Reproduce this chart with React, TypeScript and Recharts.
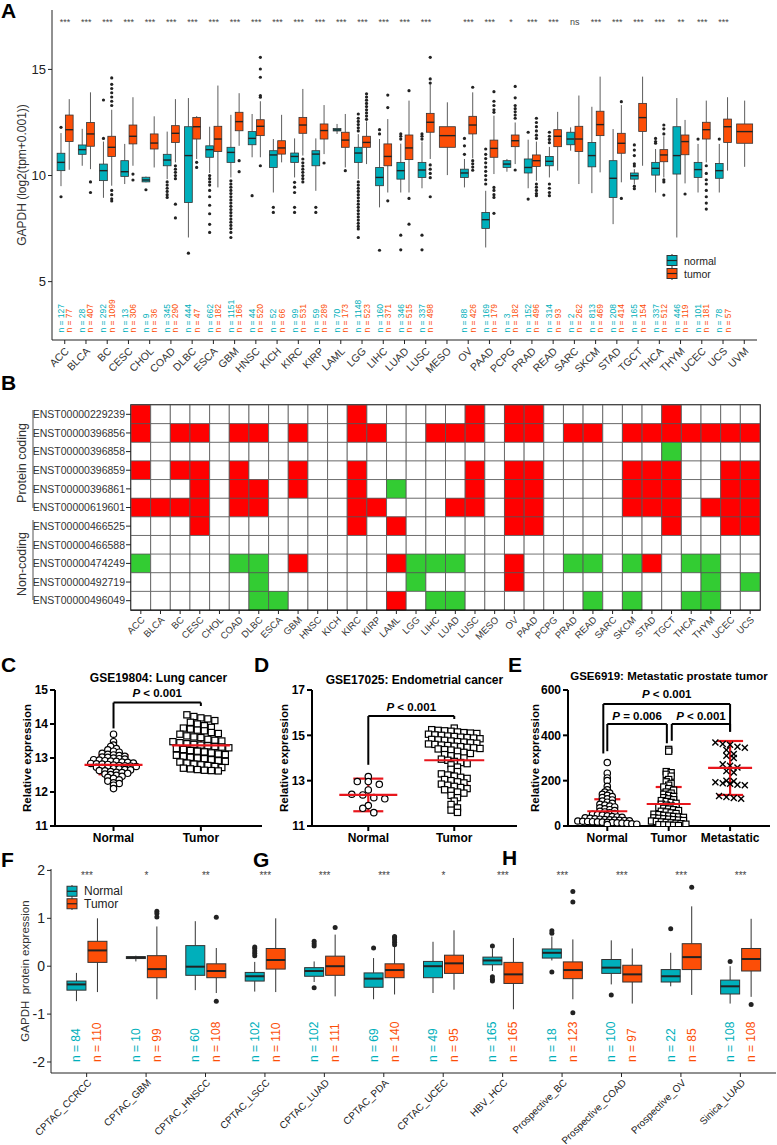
import React from "react";
import {
  BarChart,
  Bar,
  XAxis,
  YAxis,
  Cell,
  Legend,
  ReferenceArea,
  ScatterChart,
  Scatter,
  ErrorBar,
  ReferenceLine,
} from "recharts";

const FONT = "'Liberation Sans', Arial, Helvetica, sans-serif";
const TEAL = "#00AFBB";
const ORANGE = "#FC4E07";
const RED = "#E8161C";

// ---------- A: GAPDH in TCGA, log2(tpm+0.001) ----------
const tcgaTypes = ["ACC", "BLCA", "BC", "CESC", "CHOL", "COAD", "DLBC", "ESCA", "GBM", "HNSC", "KICH", "KIRC", "KIRP", "LAML", "LGG", "LIHC", "LUAD", "LUSC", "MESO", "OV", "PAAD", "PCPG", "PRAD", "READ", "SARC", "SKCM", "STAD", "TGCT", "THCA", "THYM", "UCEC", "UCS", "UVM"];

// [lower whisker, q1, median, q3, upper whisker]
const tcgaNormalBox = [
  [9.5, 10.23, 10.62, 11.05, 12.0], [10.46, 11.0, 11.22, 11.44, 12.2], [8.95, 9.76, 10.23, 10.54, 11.6],
  [9.6, 9.96, 10.18, 10.7, 11.49], [9.68, 9.7, 9.79, 9.92, 9.95], [9.83, 10.46, 10.73, 11.0, 12.07],
  [7.08, 8.73, 10.94, 12.3, 13.65], [10.12, 10.86, 11.22, 11.4, 12.3], [9.91, 10.62, 11.09, 11.33, 12.86],
  [10.86, 11.45, 11.75, 12.07, 12.9], [9.2, 10.38, 10.97, 11.17, 11.72], [9.91, 10.62, 10.9, 11.06, 11.75],
  [9.28, 10.46, 11.01, 11.17, 11.75], [11.96, 12.1, 12.15, 12.22, 12.43], [9.83, 10.62, 11.06, 11.33, 11.95],
  [8.5, 9.52, 9.91, 10.38, 11.72], [9.2, 9.83, 10.23, 10.62, 11.5], [9.4, 9.91, 10.26, 10.62, 11.6],
  null, [9.44, 9.91, 10.12, 10.3, 10.78], [6.61, 7.51, 7.92, 8.26, 9.28],
  [10.18, 10.38, 10.54, 10.7, 10.78], [9.4, 10.12, 10.38, 10.78, 11.69], [9.91, 10.46, 10.67, 10.9, 11.35],
  [11.17, 11.45, 11.72, 12.04, 12.27], [9.17, 10.41, 10.94, 11.56, 13.24], [7.71, 8.97, 9.87, 10.7, 12.19],
  [9.6, 9.83, 9.99, 10.12, 10.3], [9.2, 10.02, 10.34, 10.62, 11.25], [7.08, 10.07, 10.94, 12.3, 13.65],
  [9.2, 9.91, 10.28, 10.62, 11.49], [9.2, 9.87, 10.23, 10.57, 11.49], null,
];
const tcgaTumorBox = [
  [10.27, 11.6, 12.16, 12.85, 13.6], [10.3, 11.38, 11.96, 12.5, 13.92], [9.52, 10.9, 11.33, 11.85, 13.1],
  [10.46, 11.49, 11.85, 12.38, 13.69], [10.38, 11.25, 11.53, 11.96, 12.79], [10.62, 11.56, 11.99, 12.35, 13.6],
  [10.78, 11.72, 12.3, 12.74, 12.8], [9.44, 11.13, 11.72, 12.32, 14.24], [11.4, 12.11, 12.54, 12.98, 13.88],
  [10.86, 11.88, 12.32, 12.63, 13.5], [10.62, 11.01, 11.3, 11.64, 12.86], [10.94, 11.99, 12.38, 12.74, 14.08],
  [11.01, 11.72, 12.12, 12.43, 13.32], [10.38, 11.33, 11.67, 12.04, 12.9], [10.54, 11.33, 11.56, 11.85, 12.55],
  [9.2, 10.46, 10.9, 11.49, 12.66], [9.2, 10.75, 11.3, 11.91, 13.53], [10.78, 12.04, 12.51, 12.93, 14.32],
  [10.02, 11.33, 11.88, 12.3, 13.45], [10.81, 11.96, 12.38, 12.79, 13.92], [10.07, 10.86, 11.28, 11.67, 12.82],
  [10.54, 11.36, 11.64, 11.91, 12.5], [9.75, 10.43, 10.7, 10.97, 11.6], [10.23, 11.36, 11.85, 12.16, 13.0],
  [9.6, 11.13, 11.72, 12.32, 13.77], [10.15, 11.88, 12.4, 13.03, 14.66], [9.68, 11.05, 11.52, 11.99, 13.32],
  [10.46, 12.08, 12.73, 13.4, 14.66], [9.91, 10.65, 10.97, 11.22, 11.85], [9.63, 10.98, 11.6, 11.91, 12.62],
  [10.62, 11.72, 12.16, 12.51, 13.53], [10.23, 11.56, 12.3, 12.66, 13.69], [10.41, 11.52, 12.07, 12.43, 13.53],
];
const tcgaNormalOut = [
  [12.27, 9.0], [], [11.75, 13.56], [], [9.33], [9.7, 9.55, 9.4, 9.25, 9.1, 8.97], [6.34],
  [10.0, 9.85, 9.7, 9.55, 9.3, 9.0, 8.6, 8.2, 7.7, 7.32],
  [9.75, 9.6, 9.45, 9.3, 9.15, 9.0, 8.85, 8.7, 8.55, 8.4, 8.25, 8.1, 7.95, 7.8, 7.65, 7.5, 7.32, 7.08],
  [9.05], [8.5, 8.26], [9.68, 9.45, 9.2, 8.5, 8.26], [8.5, 8.26], [],
  [12.1, 12.25, 12.4, 12.55, 12.7, 12.9, 9.7, 9.55, 9.4, 9.25, 9.1, 8.95, 8.8, 8.65, 8.5, 8.35, 8.2, 8.05, 7.9, 7.75, 7.6, 7.48, 7.08],
  [12.16, 11.96, 6.48], [11.96, 11.85, 11.72, 7.19, 6.5], [11.96, 11.85, 11.72, 7.19, 6.5], [],
  [11.75, 11.4, 11.0], [11.25, 11.0, 10.8, 10.6, 10.4, 10.2, 10.0, 9.8, 9.6], [], [12.04, 8.89],
  [12.04, 11.85, 11.7, 11.55, 9.6, 9.4, 9.2, 9.05], [], [], [], [11.44, 11.2, 10.94, 10.55, 10.45, 9.5, 9.38],
  [11.75, 11.6, 11.52], [], [11.72], [11.72], [],
];
const tcgaTumorOut = [
  [], [9.7, 9.2], [13.3, 13.5, 13.7, 13.9, 14.1, 14.3, 14.6, 9.3, 9.1, 8.9, 8.8], [10.07, 9.79], [],
  [10.46, 10.3, 10.15, 10.0, 9.85, 8.65, 8.0], [10.62, 10.38], [], [10.7, 10.18],
  [15.57, 15.02, 14.63, 13.77, 13.69, 10.46], [], [10.78, 10.6, 10.45, 10.3, 10.15, 10.0, 9.85, 9.7], [10.59],
  [10.23], [12.65, 12.8, 12.95, 13.1, 13.25, 13.4, 13.55, 13.7, 13.85], [13.79, 13.2, 8.81], [14.0, 8.92, 7.71],
  [15.57, 14.55, 14.36, 10.5, 10.3, 10.1, 9.9, 9.0], [], [14.16, 10.7, 10.55, 10.4, 10.25],
  [13.95, 13.5, 13.3, 13.1, 12.98, 9.44, 9.3, 9.1, 8.97, 8.22], [14.2, 13.66, 13.3, 13.15, 13.0, 12.85, 12.7, 10.26],
  [12.7, 12.5, 12.3, 12.1, 11.9, 11.75, 9.6, 9.45, 9.3, 9.15, 9.05], [], [], [], [13.48, 8.92], [],
  [12.38, 12.2, 11.96, 9.8, 9.7, 9.08], [9.13], [10.46, 10.1, 9.8, 9.6, 9.3, 9.0, 8.7, 8.42], [], [],
];
const tcgaNormalN = [127, 28, 292, 13, 9, 345, 444, 662, 1151, 44, 52, 99, 59, 70, 1148, 160, 346, 337, null, 88, 169, 3, 152, 314, 2, 813, 208, 165, 337, 446, 101, 78, null];
const tcgaTumorN = [77, 407, 1099, 306, 36, 290, 47, 182, 166, 520, 66, 531, 289, 173, 523, 371, 515, 498, null, 426, 179, 182, 496, 93, 262, 469, 414, 154, 512, 119, 181, 57, null];
const tcgaSig = ["***", "***", "***", "***", "***", "***", "***", "***", "***", "***", "***", "***", "***", "***", "***", "***", "***", "***", "", "***", "***", "*", "***", "***", "ns", "***", "***", "***", "***", "**", "***", "***", ""];

// ---------- B: transcript calls (R = up, G = down) ----------
const heatTypes = ["ACC", "BLCA", "BC", "CESC", "CHOL", "COAD", "DLBC", "ESCA", "GBM", "HNSC", "KICH", "KIRC", "KIRP", "LAML", "LGG", "LIHC", "LUAD", "LUSC", "MESO", "OV", "PAAD", "PCPG", "PRAD", "READ", "SARC", "SKCM", "STAD", "TGCT", "THCA", "THYM", "UCEC", "UCS"];
const heatTranscripts = ["ENST00000229239", "ENST00000396856", "ENST00000396858", "ENST00000396859", "ENST00000396861", "ENST00000619601", "ENST00000466525", "ENST00000466588", "ENST00000474249", "ENST00000492719", "ENST00000496049"];
const heatCalls = [
  "R.........." + "R.....R.R" + "R......R.." + "..",
  "R.RR.RR.R." + ".RR..RRR.R" + "R.RR.RRRRR" + "RR",
  ".........." + ".........." + ".......G.." + "..",
  "R.RR.R..R." + ".R.....R.R" + "R....RRR.." + "RR",
  "...R.RR.R." + ".R.G...R.R" + "R....RRR.." + "RR",
  "RRRR.RR..." + ".RR...RR.R" + "R....RRR.R" + "RR",
  "...R......" + ".R.R.....R" + "R......R.." + "RR",
  ".........." + ".........." + ".........." + "..",
  "G....GG.R." + "...RGGG..R" + "..GG.GR.GG" + "..",
  "......G..." + "....G....R" + ".........G" + ".G",
  "......GG.." + "...R.GG..." + "...G.G..GG" + "..",
];
const callColor: Record<string, string> = { R: "#FF0000", G: "#33CC33", ".": "#FFFFFF" };

// ---------- C/D/E: GEO cohorts ----------
const gse19804Normal = [13.7, 13.48, 13.38, 13.34, 13.28, 13.24, 13.2, 13.17, 13.14, 13.11, 13.09, 13.07, 13.05, 13.03, 13.02, 13.0, 12.98, 12.97, 12.95, 12.94, 12.92, 12.91, 12.9, 12.88, 12.87, 12.85, 12.84, 12.83, 12.82, 12.81, 12.79, 12.78, 12.77, 12.76, 12.75, 12.73, 12.72, 12.7, 12.69, 12.68, 12.66, 12.65, 12.63, 12.62, 12.6, 12.58, 12.57, 12.55, 12.53, 12.51, 12.49, 12.46, 12.43, 12.4, 12.36, 12.32, 12.27, 12.25, 12.2, 12.1];
const gse19804Tumor = [14.27, 14.22, 14.18, 14.15, 14.1, 14.05, 14.0, 13.95, 13.9, 13.88, 13.85, 13.82, 13.8, 13.75, 13.72, 13.7, 13.65, 13.62, 13.6, 13.55, 13.52, 13.5, 13.48, 13.45, 13.42, 13.4, 13.38, 13.36, 13.34, 13.32, 13.3, 13.28, 13.25, 13.22, 13.2, 13.18, 13.15, 13.12, 13.1, 13.08, 13.05, 13.02, 13.0, 12.98, 12.95, 12.92, 12.9, 12.88, 12.85, 12.82, 12.8, 12.78, 12.75, 12.72, 12.7, 12.68, 12.66, 12.64, 12.63, 12.62];
const gse17025Normal = [13.18, 12.96, 12.96, 12.84, 12.59, 12.4, 12.37, 12.25, 12.2, 11.9, 11.78, 11.59];
const gse17025Tumor = [15.32, 15.25, 15.22, 15.2, 15.18, 15.15, 15.12, 15.1, 15.08, 15.05, 15.02, 15.0, 14.97, 14.95, 14.92, 14.9, 14.88, 14.85, 14.82, 14.8, 14.78, 14.75, 14.72, 14.7, 14.67, 14.65, 14.62, 14.6, 14.57, 14.55, 14.52, 14.5, 14.47, 14.45, 14.42, 14.4, 14.37, 14.35, 14.3, 14.25, 14.2, 14.15, 14.1, 14.05, 14.0, 13.95, 13.9, 13.85, 13.8, 13.75, 13.7, 13.6, 13.5, 13.4, 13.3, 13.25, 13.2, 13.15, 13.1, 13.05, 13.0, 12.95, 12.9, 12.85, 12.8, 12.75, 12.7, 12.65, 12.6, 12.55, 12.5, 12.45, 12.35, 12.25, 12.1, 11.95, 11.8, 11.7, 11.6];
const gse6919Normal = [280, 233, 212, 200, 175, 160, 150, 145, 140, 135, 130, 125, 120, 115, 110, 105, 100, 96, 92, 88, 84, 80, 76, 72, 68, 65, 62, 58, 55, 52, 50, 48, 45, 42, 40, 38, 36, 34, 32, 30, 28, 27, 26, 25, 24, 23, 22, 21, 20, 19, 18, 17, 16, 15, 14, 13, 12, 10, 8, 6];
const gse6919Tumor = [338, 330, 240, 235, 228, 220, 205, 195, 188, 180, 172, 165, 158, 150, 145, 140, 135, 130, 125, 120, 116, 112, 108, 104, 100, 96, 92, 88, 85, 82, 78, 75, 72, 68, 65, 62, 58, 55, 52, 50, 47, 44, 42, 40, 38, 36, 34, 32, 30, 28, 26, 24, 22, 20, 18, 16, 14, 12, 10, 8, 6, 5, 4, 3, 2];
const gse6919Met = [368, 362, 358, 350, 345, 335, 318, 310, 300, 272, 266, 258, 243, 236, 200, 197, 193, 189, 186, 182, 180, 132, 128, 124, 120];
// mean and SD as drawn
const gse19804Stats = [[12.8, 0.28], [13.37, 0.45]];
const gse17025Stats = [[12.37, 0.72], [13.9, 1.08]];
const gse6919Stats = [[65, 53], [97, 75], [256, 119]];

// ---------- F/G/H: CPTAC protein ----------
const protSets = ["CPTAC_CCRCC", "CPTAC_GBM", "CPTAC_HNSCC", "CPTAC_LSCC", "CPTAC_LUAD", "CPTAC_PDA", "CPTAC_UCEC", "HBV_HCC", "Prospective_BC", "Prospective_COAD", "Prospective_OV", "Sinica_LUAD"];
const protNormalBox = [
  [-0.73, -0.5, -0.38, -0.31, -0.14], [0.1, 0.16, 0.18, 0.2, 0.22], [-0.5, -0.19, -0.01, 0.43, 0.94],
  [-0.53, -0.31, -0.21, -0.13, 0.09], [-0.33, -0.21, -0.1, -0.03, 0.1], [-0.69, -0.44, -0.26, -0.14, 0.17],
  [-0.56, -0.24, 0.0, 0.1, 0.51], [-0.1, 0.03, 0.12, 0.19, 0.37], [0.12, 0.17, 0.28, 0.36, 0.62],
  [-0.38, -0.15, -0.03, 0.14, 0.54], [-0.42, -0.33, -0.21, -0.07, 0.28], [-0.78, -0.58, -0.42, -0.29, 0.0],
];
const protTumorBox = [
  [-0.54, 0.08, 0.33, 0.52, 1.0], [-0.69, -0.24, -0.06, 0.22, 0.83], [-0.56, -0.24, -0.1, 0.05, 0.38],
  [-0.54, -0.06, 0.13, 0.37, 1.0], [-0.63, -0.19, 0.0, 0.21, 0.66], [-0.59, -0.24, -0.08, 0.05, 0.42],
  [-0.49, -0.15, 0.06, 0.23, 0.75], [-0.9, -0.36, -0.17, 0.08, 0.59], [-0.69, -0.26, -0.08, 0.09, 0.56],
  [-0.78, -0.33, -0.17, 0.02, 0.37], [-0.6, -0.07, 0.19, 0.47, 1.25], [-0.64, -0.1, 0.15, 0.37, 0.99],
];
const protNormalOut = [[], [], [], [0.22, 0.27, 0.32, 0.37, 0.4], [0.42, 0.47, 0.52, -0.45], [0.38], [], [0.42, -0.22, -0.27, -0.31], [0.74, 0.69, -0.12], [-0.6], [0.78], [0.1]];
const protTumorOut = [[], [1.15, 1.1, 1.03], [1.02, -0.73], [], [0.81], [0.45, 0.5, 0.55, 0.6, 0.62], [], [], [1.56, 1.34, -0.97], [], [1.65], [-0.8]];
const protNormalN = [84, 10, 60, 102, 102, 69, 49, 165, 18, 100, 22, 108];
const protTumorN = [110, 99, 108, 110, 111, 140, 95, 165, 123, 97, 85, 108];
const protSig = ["***", "*", "**", "***", "***", "***", "*", "***", "***", "***", "***", "***"];

// ---------- helpers ----------
function buildBoxRows(names: string[], nb: any[], tb: any[], no: number[][], to: number[][], nn: any[], tn: any[], sig: string[]) {
  return names.map((name, i) => {
    const vals = [...(nb[i] || []), ...tb[i], ...no[i], ...to[i]];
    return {
      idx: i + 1, name, normal: nb[i], tumor: tb[i], nOut: no[i], tOut: to[i],
      nN: nn[i], tN: tn[i], sig: sig[i], range: [Math.min(...vals), Math.max(...vals)],
    };
  });
}

function swarm(values: number[], center: number, bin: number, step: number) {
  const rows = new Map<number, number[]>();
  values.forEach((v) => {
    const k = Math.round(v / bin);
    rows.set(k, [...(rows.get(k) || []), v]);
  });
  const pts: { x: number; y: number }[] = [];
  rows.forEach((vs) => vs.forEach((v, i) => pts.push({ x: center + (i - (vs.length - 1) / 2) * step, y: v })));
  return pts;
}

const tcgaRows = buildBoxRows(tcgaTypes, tcgaNormalBox, tcgaTumorBox, tcgaNormalOut, tcgaTumorOut, tcgaNormalN, tcgaTumorN, tcgaSig);
const protRows = buildBoxRows(protSets, protNormalBox, protTumorBox, protNormalOut, protTumorOut, protNormalN, protTumorN, protSig);

const heatRows = heatTranscripts.map((id) => {
  const row: any = { id };
  heatTypes.forEach((_, j) => (row[`c${j}`] = 1));
  return row;
});

// draws a normal/tumor box pair inside the bar's rectangle (bar spans the data range)
function makeBoxShape(st: any) {
  return (props: any) => {
    const { x, y, width, height, payload } = props;
    if (!payload || x == null) return <g />;
    const [lo, hi] = payload.range;
    const top = Math.min(y, y + height);
    const bot = Math.max(y, y + height);
    const py = (v: number) => bot - ((v - lo) / (hi - lo)) * (bot - top);
    const single = !payload.normal;
    const bw = single ? width : (width - st.gap) / 2;
    const nCx = x + bw / 2;
    const tCx = single ? x + width / 2 : x + width - bw / 2;
    const box = (key: string, b: number[], outs: number[], cx: number, fill: string) => (
      <g key={key}>
        <line x1={cx} x2={cx} y1={py(b[4])} y2={py(b[3])} stroke={st.line} strokeWidth={st.lw} />
        <line x1={cx} x2={cx} y1={py(b[1])} y2={py(b[0])} stroke={st.line} strokeWidth={st.lw} />
        <rect x={cx - bw / 2} y={py(b[3])} width={bw} height={Math.max(py(b[1]) - py(b[3]), 0.5)} fill={fill} stroke={st.line} strokeWidth={st.lw} />
        <line x1={cx - bw / 2} x2={cx + bw / 2} y1={py(b[2])} y2={py(b[2])} stroke="#222" strokeWidth={st.mw} />
        {outs.map((o, k) => (
          <circle key={k} cx={cx} cy={py(o)} r={st.r} fill="#222" />
        ))}
      </g>
    );
    const nText = (key: string, n: any, cx: number, color: string) =>
      n == null ? null : (
        <text key={key} transform={`translate(${cx},${py(st.nY)}) rotate(-90)`} fontSize={st.nFont} fill={color} fontFamily={FONT} dominantBaseline="central">
          {`n = ${n}`}
        </text>
      );
    return (
      <g>
        {payload.normal ? box("n", payload.normal, payload.nOut, nCx, TEAL) : null}
        {box("t", payload.tumor, payload.tOut, tCx, ORANGE)}
        {nText("nn", payload.nN, nCx, TEAL)}
        {nText("tn", payload.tN, tCx, ORANGE)}
        {payload.sig ? (
          <text x={x + width / 2} y={py(st.sigY)} textAnchor="middle" fontSize={st.sigFont} fill="#444" fontFamily={FONT}>
            {payload.sig}
          </text>
        ) : null}
      </g>
    );
  };
}

const boxShapeA = makeBoxShape({ gap: 0.5, line: "#333", lw: 0.8, mw: 1.4, r: 1.6, nY: 2.6, nFont: 8.5, sigY: 17.1, sigFont: 9 });
const boxShapeF = makeBoxShape({ gap: 2, line: "#333", lw: 1, mw: 2, r: 2.5, nY: -2.0, nFont: 12, sigY: 1.82, sigFont: 10 });

const SlantTick = (props: any) => {
  const { x, y, payload, fmt, fontSize, fill, dx = 0, dy = 0 } = props;
  return (
    <text transform={`translate(${x + dx},${y + dy}) rotate(-45)`} textAnchor="end" fontSize={fontSize} fill={fill} fontFamily={FONT} dominantBaseline="central">
      {fmt(payload.value)}
    </text>
  );
};

const BoxKey = ({ labels, fontSize, rowH, size }: any) => (
  <svg width={90} height={rowH * labels.length + 4} style={{ overflow: "visible" }}>
    {labels.map((l: string, i: number) => {
      const y0 = 2 + i * rowH;
      const cx = 1 + size / 2;
      return (
        <g key={l}>
          <line x1={cx} x2={cx} y1={y0} y2={y0 + rowH} stroke="#333" />
          <rect x={1} y={y0 + (rowH - size) / 2} width={size} height={size} fill={i ? ORANGE : TEAL} stroke="#333" />
          <line x1={1} x2={1 + size} y1={y0 + rowH / 2} y2={y0 + rowH / 2} stroke="#222" strokeWidth={1.2} />
          <text x={size + 8} y={y0 + rowH / 2} dominantBaseline="central" fontSize={fontSize} fill="#222" fontFamily={FONT}>
            {l}
          </text>
        </g>
      );
    })}
  </svg>
);

const PText = (props: any) => {
  const { viewBox, text, lift } = props;
  if (!viewBox) return null;
  return (
    <text x={viewBox.x + viewBox.width / 2} y={viewBox.y - lift} textAnchor="middle" fontSize={11.5} fontWeight="bold" fontFamily={FONT} fill="#000">
      <tspan fontStyle="italic">P</tspan>
      {text}
    </text>
  );
};

const markers: Record<string, (p: any) => any> = {
  circle: (p) => <circle cx={p.cx} cy={p.cy} r={3.2} fill="#fff" stroke="#000" strokeWidth={1.2} />,
  square: (p) => <rect x={p.cx - 3.1} y={p.cy - 3.1} width={6.2} height={6.2} fill="#fff" stroke="#000" strokeWidth={1.2} />,
  cross: (p) => (
    <g stroke="#000" strokeWidth={1.4}>
      <line x1={p.cx - 3} x2={p.cx + 3} y1={p.cy - 3} y2={p.cy + 3} />
      <line x1={p.cx - 3} x2={p.cx + 3} y1={p.cy + 3} y2={p.cy - 3} />
    </g>
  ),
};

const meanLine = (hw: number) => (p: any) => <line x1={p.cx - hw} x2={p.cx + hw} y1={p.cy} y2={p.cy} stroke={RED} strokeWidth={2.2} />;

function DotPanel({ left, top, width, marginRight, yDomain, yTicks, xDomain, names, groups, brackets, labelOffset }: any) {
  const axisStyle = { stroke: "#000", strokeWidth: 2 };
  const tickStyle = { fontSize: 12, fontWeight: "bold", fill: "#000", fontFamily: FONT };
  return (
    <div style={{ position: "absolute", left, top }}>
      <ScatterChart width={width} height={170} margin={{ top: 10, right: marginRight, bottom: 0, left: 0 }}>
        <XAxis type="number" dataKey="x" domain={xDomain} ticks={names.map((_: string, i: number) => i + 1)} tickFormatter={(v: number) => names[v - 1]} interval={0} height={24} axisLine={axisStyle} tickLine={axisStyle} tickSize={5} tick={tickStyle} allowDataOverflow />
        <YAxis type="number" dataKey="y" domain={yDomain} ticks={yTicks} interval={0} width={55} axisLine={axisStyle} tickLine={axisStyle} tickSize={5} tick={tickStyle} allowDataOverflow
          label={{ value: "Relative expression", angle: -90, position: "insideLeft", offset: labelOffset, style: { textAnchor: "middle", fontSize: 11.5, fontWeight: "bold", fill: "#000", fontFamily: FONT } }} />
        {groups.map((g: any, i: number) => (
          <Scatter key={`p${i}`} data={swarm(g.values, i + 1, g.bin, g.step)} shape={markers[g.marker]} isAnimationActive={false} />
        ))}
        {groups.map((g: any, i: number) => (
          <Scatter key={`m${i}`} data={[{ x: i + 1, y: g.stats[0], err: g.stats[1] }]} shape={meanLine(g.halfW)} isAnimationActive={false}>
            <ErrorBar dataKey="err" direction="y" width={g.capW} stroke={RED} strokeWidth={2.2} />
          </Scatter>
        ))}
        {brackets.flatMap((b: any, bi: number) =>
          b.pts.slice(1).map((p: number[], k: number) => (
            <ReferenceLine key={`b${bi}-${k}`} segment={[{ x: b.pts[k][0], y: b.pts[k][1] }, { x: p[0], y: p[1] }]} stroke="#000" strokeWidth={2} ifOverflow="visible"
              label={k === 1 ? <PText text={b.text} lift={b.lift} /> : undefined} />
          ))
        )}
      </ScatterChart>
    </div>
  );
}

const Letter = ({ ch, x, y }: any) => (
  <div style={{ position: "absolute", left: x, top: y, fontSize: 21, fontWeight: "bold", lineHeight: "21px", color: "#000" }}>{ch}</div>
);

const Title = ({ text, left, width, top, size = 12 }: any) => (
  <div style={{ position: "absolute", left, top, width, textAlign: "center", fontSize: size, fontWeight: "bold", lineHeight: "14px", color: "#000", whiteSpace: "nowrap" }}>{text}</div>
);

export default function App() {
  return (
    <div style={{ position: "absolute", left: 0, top: 0, width: 777, height: 1145, background: "#fff", fontFamily: FONT, overflow: "hidden" }}>
      {/* A */}
      <div style={{ position: "absolute", left: 0, top: 0 }}>
        <BarChart width={777} height={375} data={tcgaRows} margin={{ top: 10, right: 20, bottom: 0, left: 0 }}>
          <XAxis type="number" dataKey="idx" domain={[0.4, 33.6]} ticks={tcgaRows.map((r) => r.idx)} interval={0} height={35} tickSize={4} axisLine={{ stroke: "#222" }} tickLine={{ stroke: "#222" }}
            tick={<SlantTick fmt={(v: number) => tcgaTypes[Math.round(v) - 1]} fontSize={10.5} fill="#333" dx={2} dy={3} />} />
          <YAxis type="number" domain={[2.25, 17.8]} ticks={[5, 10, 15]} width={52} tickSize={4} axisLine={{ stroke: "#222" }} tickLine={{ stroke: "#222" }} tick={{ fontSize: 13, fill: "#222", fontFamily: FONT }}
            label={{ value: "GAPDH (log2(tpm+0.001))", angle: -90, position: "insideLeft", offset: 22, style: { textAnchor: "middle", fontSize: 12, fill: "#333", fontFamily: FONT } }} />
          <Bar dataKey="range" barSize={16} shape={boxShapeA} isAnimationActive={false} />
          <Legend layout="vertical" align="center" verticalAlign="middle" wrapperStyle={{ left: 666, top: 252, width: 90 }}
            content={() => <BoxKey labels={["normal", "tumor"]} fontSize={10.5} rowH={13} size={10} />} />
        </BarChart>
      </div>

      {/* B */}
      <div style={{ position: "absolute", left: 0, top: 395 }}>
        <BarChart layout="vertical" width={777} height={255} data={heatRows} margin={{ top: 10, right: 17, bottom: 0, left: 0 }} barCategoryGap={0}>
          <XAxis type="number" domain={[0, 32]} ticks={heatTypes.map((_, j) => j + 0.5)} interval={0} height={40} tickSize={4} axisLine={{ stroke: "#000" }} tickLine={{ stroke: "#222" }}
            tick={<SlantTick fmt={(v: number) => heatTypes[Math.floor(v)]} fontSize={9.5} fill="#333" dx={2} dy={2} />} />
          <YAxis type="category" dataKey="id" width={131} interval={0} tickSize={5} tickMargin={1} axisLine={false} tickLine={{ stroke: "#222" }} tick={{ fontSize: 10.5, fill: "#333", fontFamily: FONT }} />
          {heatTypes.map((t, j) => (
            <Bar key={t} dataKey={`c${j}`} stackId="h" isAnimationActive={false} stroke="#555" strokeWidth={0.8}>
              {heatRows.map((_, i) => (
                <Cell key={i} fill={callColor[heatCalls[i][j]]} />
              ))}
            </Bar>
          ))}
          <ReferenceArea x1={0} x2={32} fill="none" stroke="#000" strokeWidth={1.5} ifOverflow="visible" />
        </BarChart>
      </div>
      <svg style={{ position: "absolute", left: 0, top: 395 }} width={131} height={220}>
        <line x1={33} x2={33} y1={15} y2={113} stroke="#555" />
        <line x1={33} x2={33} y1={125} y2={205} stroke="#555" />
        <text transform="translate(22,68) rotate(-90)" textAnchor="middle" dominantBaseline="central" fontSize={12.5} fill="#333" fontFamily={FONT}>Protein coding</text>
        <text transform="translate(22,169) rotate(-90)" textAnchor="middle" dominantBaseline="central" fontSize={12.5} fill="#333" fontFamily={FONT}>Non-coding</text>
      </svg>

      {/* C */}
      <Title text="GSE19804: Lung cancer" left={55} width={207} top={671} />
      <DotPanel left={0} top={680} width={270} marginRight={8} yDomain={[11, 15]} yTicks={[11, 12, 13, 14, 15]} xDomain={[0.33, 2.7]} names={["Normal", "Tumor"]} labelOffset={27}
        groups={[
          { values: gse19804Normal, marker: "circle", bin: 0.1, step: 0.065, stats: gse19804Stats[0], halfW: 29, capW: 15 },
          { values: gse19804Tumor, marker: "square", bin: 0.2, step: 0.08, stats: gse19804Stats[1], halfW: 29, capW: 14 },
        ]}
        brackets={[{ pts: [[1, 13.87], [1, 14.63], [2, 14.63], [2, 14.53]], text: " < 0.001", lift: 6 }]} />

      {/* D */}
      <Title text="GSE17025: Endometrial cancer" left={312} width={205} top={673} />
      <DotPanel left={257} top={680} width={270} marginRight={10} yDomain={[11, 17]} yTicks={[11, 13, 15, 17]} xDomain={[0.345, 2.73]} names={["Normal", "Tumor"]} labelOffset={27}
        groups={[
          { values: gse17025Normal, marker: "circle", bin: 0.3, step: 0.128, stats: gse17025Stats[0], halfW: 29, capW: 15 },
          { values: gse17025Tumor, marker: "square", bin: 0.22, step: 0.075, stats: gse17025Stats[1], halfW: 30, capW: 14 },
        ]}
        brackets={[{ pts: [[1, 13.7], [1, 15.85], [2, 15.85], [2, 15.72]], text: " < 0.001", lift: 5 }]} />

      {/* E */}
      <Title text="GSE6919: Metastatic prostate tumor" left={568} width={202} top={669} size={11.5} />
      <DotPanel left={513} top={680} width={264} marginRight={7} yDomain={[0, 600]} yTicks={[0, 200, 400, 600]} xDomain={[0.36, 3.65]} names={["Normal", "Tumor", "Metastatic"]} labelOffset={22}
        groups={[
          { values: gse6919Normal, marker: "circle", bin: 15, step: 0.08, stats: gse6919Stats[0], halfW: 20, capW: 13 },
          { values: gse6919Tumor, marker: "square", bin: 15, step: 0.08, stats: gse6919Stats[1], halfW: 22, capW: 13 },
          { values: gse6919Met, marker: "cross", bin: 30, step: 0.12, stats: gse6919Stats[2], halfW: 22, capW: 13 },
        ]}
        brackets={[
          { pts: [[0.935, 320], [0.935, 538], [3, 538], [3, 416]], text: " < 0.001", lift: 6 },
          { pts: [[1, 330], [1, 450], [1.97, 450], [1.97, 365]], text: " = 0.006", lift: 4 },
          { pts: [[2.05, 376], [2.05, 450], [3, 450], [3, 416]], text: " < 0.001", lift: 4 },
        ]} />

      {/* F/G/H */}
      <div style={{ position: "absolute", left: 0, top: 840 }}>
        <BarChart width={777} height={305} data={protRows} margin={{ top: 29, right: 1, bottom: 0, left: 0 }}>
          <XAxis type="number" dataKey="idx" domain={[0.4, 12.6]} ticks={protRows.map((r) => r.idx)} interval={0} height={72} tickSize={4} axisLine={{ stroke: "#222" }} tickLine={{ stroke: "#222" }}
            tick={<SlantTick fmt={(v: number) => protSets[Math.round(v) - 1]} fontSize={10} fill="#222" dx={3} dy={2} />} />
          <YAxis type="number" domain={[-2.23, 2.03]} ticks={[-2, -1, 0, 1, 2]} width={51} tickSize={4} axisLine={{ stroke: "#222" }} tickLine={{ stroke: "#222" }} tick={{ fontSize: 14, fill: "#222", fontFamily: FONT }}
            label={{ value: "GAPDH\u00A0 protein expression", angle: -90, position: "insideLeft", offset: 25, style: { textAnchor: "middle", fontSize: 11.5, fill: "#333", fontFamily: FONT } }} />
          <Bar dataKey="range" barSize={40} shape={boxShapeF} isAnimationActive={false} />
          <Legend layout="vertical" align="center" verticalAlign="middle" wrapperStyle={{ left: 66, top: 43, width: 90 }}
            content={() => <BoxKey labels={["Normal", "Tumor"]} fontSize={12} rowH={12.5} size={10} />} />
        </BarChart>
      </div>

      <Letter ch="A" x={1} y={0} />
      <Letter ch="B" x={1} y={372} />
      <Letter ch="C" x={1} y={654} />
      <Letter ch="D" x={254} y={654} />
      <Letter ch="E" x={508} y={654} />
      <Letter ch="F" x={1} y={849} />
      <Letter ch="G" x={253} y={849} />
      <Letter ch="H" x={502} y={847} />
    </div>
  );
}
